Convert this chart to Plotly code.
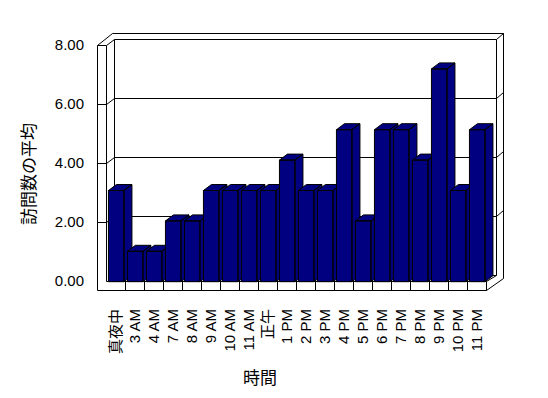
import plotly.graph_objects as go

# ---------------- data ----------------
categories = ["真夜中", "3 AM", "4 AM", "7 AM", "8 AM", "9 AM", "10 AM", "11 AM", "正午",
              "1 PM", "2 PM", "3 PM", "4 PM", "5 PM", "6 PM", "7 PM", "8 PM", "9 PM",
              "10 PM", "11 PM"]
values = [3, 1, 1, 2, 2, 3, 3, 3, 3, 4, 3, 3, 5, 2, 5, 5, 4, 7, 3, 5]
y_ticks = [0, 2, 4, 6, 8]
y_title = "訪問数の平均"
x_title = "時間"

# ---------------- geometry (pixels) ----------------
W, H = 548, 398
L, R, T, B = 97, 503, 33, 291
PW, PH = R - L, B - T


def px(x):
    return (x - L) / PW


def py(y):
    return (B - y) / PH


SLOT = 19.0          # pixels per category
X0 = 116.2           # pixel centre of first category
BAR_ZERO, BAR_UNIT = 281.7, 30.4
LAB_ZERO, LAB_UNIT = 281.0, 29.5
DX, DY = 8.0, -6.0   # 3-D depth offset of the bars
WX, WY = 7.5, -5.7   # 3-D depth offset of the walls

x_range = [(L - X0) / SLOT, (R - X0) / SLOT]
y_range = [(BAR_ZERO - B) / BAR_UNIT, (BAR_ZERO - T) / BAR_UNIT]
y2_range = [(LAB_ZERO - B) / LAB_UNIT, (LAB_ZERO - T) / LAB_UNIT]

NAVY = "#000080"
FONT = "Liberation Sans, Arial, Noto Sans CJK JP"
CJK = "Noto Sans CJK JP, Liberation Sans"

fig = go.Figure()

bw = 15.5 / SLOT
ddx = DX / SLOT
ddy = -DY / BAR_UNIT
for i, v in enumerate(values):
    xl, xr = i - bw / 2, i + bw / 2
    xs = [xl, xr, xr, xl, xl, None,
          xl, xl + ddx, xr + ddx, xr, xl, None,
          xr, xr + ddx, xr + ddx, xr, xr]
    ys = [0, 0, v, v, 0, None,
          v, v + ddy, v + ddy, v, v, None,
          0, ddy, v + ddy, v, 0]
    fig.add_trace(go.Scatter(
        x=xs, y=ys, mode="lines", fill="toself", fillcolor=NAVY,
        line=dict(color="black", width=1), showlegend=False,
        name=categories[i], hoverinfo="skip"))

# invisible trace to carry the label axis
fig.add_trace(go.Scatter(x=[0], y=[0], yaxis="y2", mode="markers",
                         marker=dict(opacity=0), showlegend=False, hoverinfo="skip"))

# ---------------- 3-D frame ----------------
shapes = []


def line(x1, y1, x2, y2):
    shapes.append(dict(type="line", xref="paper", yref="paper",
                       x0=px(x1), y0=py(y1), x1=px(x2), y1=py(y2),
                       line=dict(color="black", width=1), layer="below"))


xo, xw, xb, xri, xro = 97.5, 106.5, 114.5, 496.5, 503.5
yto, ytb, ytf = 33.5, 39.5, 45.5
yff, yfb, yfo = 281.5, 275.5, 290.5
xfr = 486.5

path = (f"M {px(xo)} {py(ytf)} L {px(xo + 2 * WX)} {py(yto)} L {px(xro)} {py(yto)} "
        f"L {px(xro)} {py(278.5)} L {px(xfr)} {py(yfo)} L {px(xo)} {py(yfo)} Z")
shapes.append(dict(type="path", xref="paper", yref="paper", path=path,
                   fillcolor="white", line=dict(color="black", width=1), layer="below"))

line(xo, ytf, xw, ytf)
line(xw, ytf, xw, yff)
line(xw, ytf, xb, ytb)
line(xb, ytb, xri, ytb)
line(xri, ytb, xro, yto)
line(xb, ytb, xb, yfb)
line(xri, ytb, xri, yfb)
line(xb, yfb, xri, yfb)
line(xw, yff, xfr, yff)
line(xfr, yff, xri, yfb)
for k in range(len(categories)):
    xd = 125.5 + SLOT * k
    line(xd, yff, xd, yfo)

for v in y_ticks[1:-1]:
    yf = round(LAB_ZERO - LAB_UNIT * v) + 0.5
    yb = yf - 6
    line(xo, yf, xw, yf)
    line(xw, yf, xb, yb)
    line(xb, yb, xri, yb)
    line(xri, yb, xro, yb - 6)

# ---------------- layout ----------------
fig.update_layout(
    width=W, height=H,
    margin=dict(l=L, r=W - R, t=T, b=H - B, pad=0),
    paper_bgcolor="white", plot_bgcolor="white",
    showlegend=False,
    shapes=shapes,
    xaxis=dict(range=x_range, tickmode="array", tickvals=list(range(len(categories))),
               ticktext=categories, tickangle=-90, showgrid=False, zeroline=False,
               showline=False, ticks="outside", ticklen=11, tickcolor="rgba(0,0,0,0)",
               tickfont=dict(family=FONT, size=15, color="black"), fixedrange=True),
    yaxis=dict(range=y_range, showticklabels=False, showgrid=False, zeroline=False,
               showline=False, ticks="", fixedrange=True),
    yaxis2=dict(range=y2_range, overlaying="y", side="left", tickmode="array",
                tickvals=y_ticks, ticktext=[f"{t:.2f}" for t in y_ticks],
                showgrid=False, zeroline=False, showline=False, ticks="outside",
                ticklen=9, tickcolor="rgba(0,0,0,0)",
                tickfont=dict(family=FONT, size=15, color="black"), fixedrange=True),
    annotations=[
        dict(text=x_title, xref="paper", yref="paper", x=px(260), y=py(376),
             showarrow=False, font=dict(family=CJK, size=17, color="black"),
             xanchor="center", yanchor="middle"),
        dict(text=y_title, xref="paper", yref="paper", x=px(27), y=py(174),
             showarrow=False, textangle=-90, font=dict(family=CJK, size=17, color="black"),
             xanchor="center", yanchor="middle"),
    ],
)

fig.write_html("out.html")
